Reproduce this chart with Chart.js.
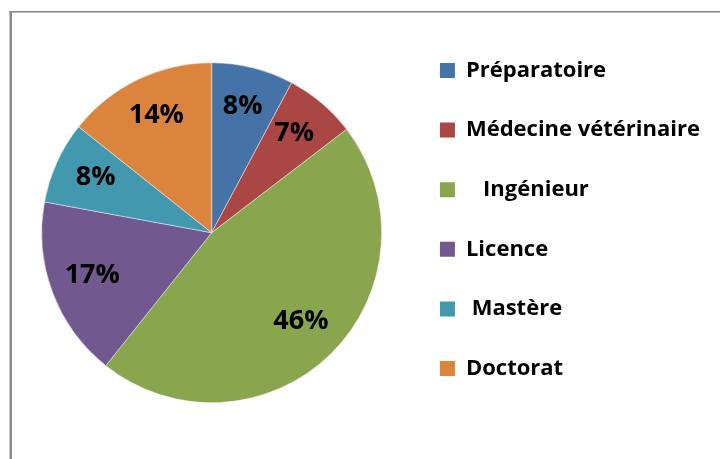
<!DOCTYPE html>
<html>
<head>
<meta charset="utf-8">
<script src="https://cdn.jsdelivr.net/npm/chart.js@4.4.1/dist/chart.umd.min.js"></script>
<style>
  html, body { margin: 0; padding: 0; background: #ffffff; }
  #wrap { width: 720px; height: 459px; position: relative; }
</style>
</head>
<body>
<div id="wrap"><canvas id="c" width="720" height="459"></canvas></div>
<script>
const categories = ['Préparatoire', 'Médecine vétérinaire', '   Ingénieur', 'Licence', ' Mastère', 'Doctorat'];
const shares = [7.8, 6.8, 46.1, 17.2, 7.8, 14.3];
const sliceColors = ['#4572A7', '#AA4643', '#89A54E', '#71588F', '#4198AF', '#DB843D'];

const framePlugin = {
  id: 'frame',
  beforeDraw(chart) {
    const ctx = chart.ctx;
    ctx.save();
    ctx.fillStyle = '#ffffff';
    ctx.fillRect(0, 0, chart.width, chart.height);
    ctx.fillStyle = '#8a8a8a';
    ctx.fillRect(9.5, 11, 2.5, chart.height - 11);
    ctx.fillRect(9.5, 11, chart.width - 9.5, 1.6);
    ctx.restore();
  }
};

const pctLabels = {
  id: 'pctLabels',
  afterDatasetsDraw(chart) {
    const ctx = chart.ctx;
    const meta = chart.getDatasetMeta(0);
    const data = chart.data.datasets[0].data;
    const total = data.reduce((a, b) => a + b, 0);
    ctx.save();
    ctx.font = 'bold 27px "Open Sans"';
    ctx.fillStyle = '#000000';
    ctx.textAlign = 'center';
    ctx.textBaseline = 'middle';
    meta.data.forEach((arc, i) => {
      const p = arc.getProps(['x', 'y', 'startAngle', 'endAngle', 'outerRadius'], true);
      const mid = (p.startAngle + p.endAngle) / 2;
      const r = p.outerRadius * 0.75;
      const tx = p.x + Math.cos(mid) * r;
      const ty = p.y + Math.sin(mid) * r - 2.5;
      ctx.fillText(Math.round(data[i] / total * 100) + '%', tx, ty);
    });
    ctx.restore();
  }
};

new Chart(document.getElementById('c'), {
  type: 'pie',
  data: {
    labels: categories,
    datasets: [{
      data: shares,
      backgroundColor: sliceColors,
      borderColor: 'rgba(255,255,255,0.45)',
      borderWidth: 1,
      hoverOffset: 0,
      radius: 170
    }]
  },
  options: {
    responsive: false,
    animation: false,
    devicePixelRatio: 1,
    layout: { padding: { top: 21.9, bottom: 15.5, left: 21, right: 10 } },
    plugins: {
      tooltip: { enabled: false },
      legend: {
        position: 'right',
        align: 'start',
        labels: {
          font: { family: '"Open Sans"', size: 22, weight: 'bold' },
          color: '#000000',
          boxWidth: 15,
          boxHeight: 15,
          padding: 37.6,
          generateLabels(chart) {
            return Chart.overrides.pie.plugins.legend.labels.generateLabels(chart)
              .map(l => Object.assign(l, { lineWidth: 0, strokeStyle: 'rgba(0,0,0,0)' }));
          }
        }
      }
    }
  },
  plugins: [framePlugin, pctLabels]
});
</script>
</body>
</html>
